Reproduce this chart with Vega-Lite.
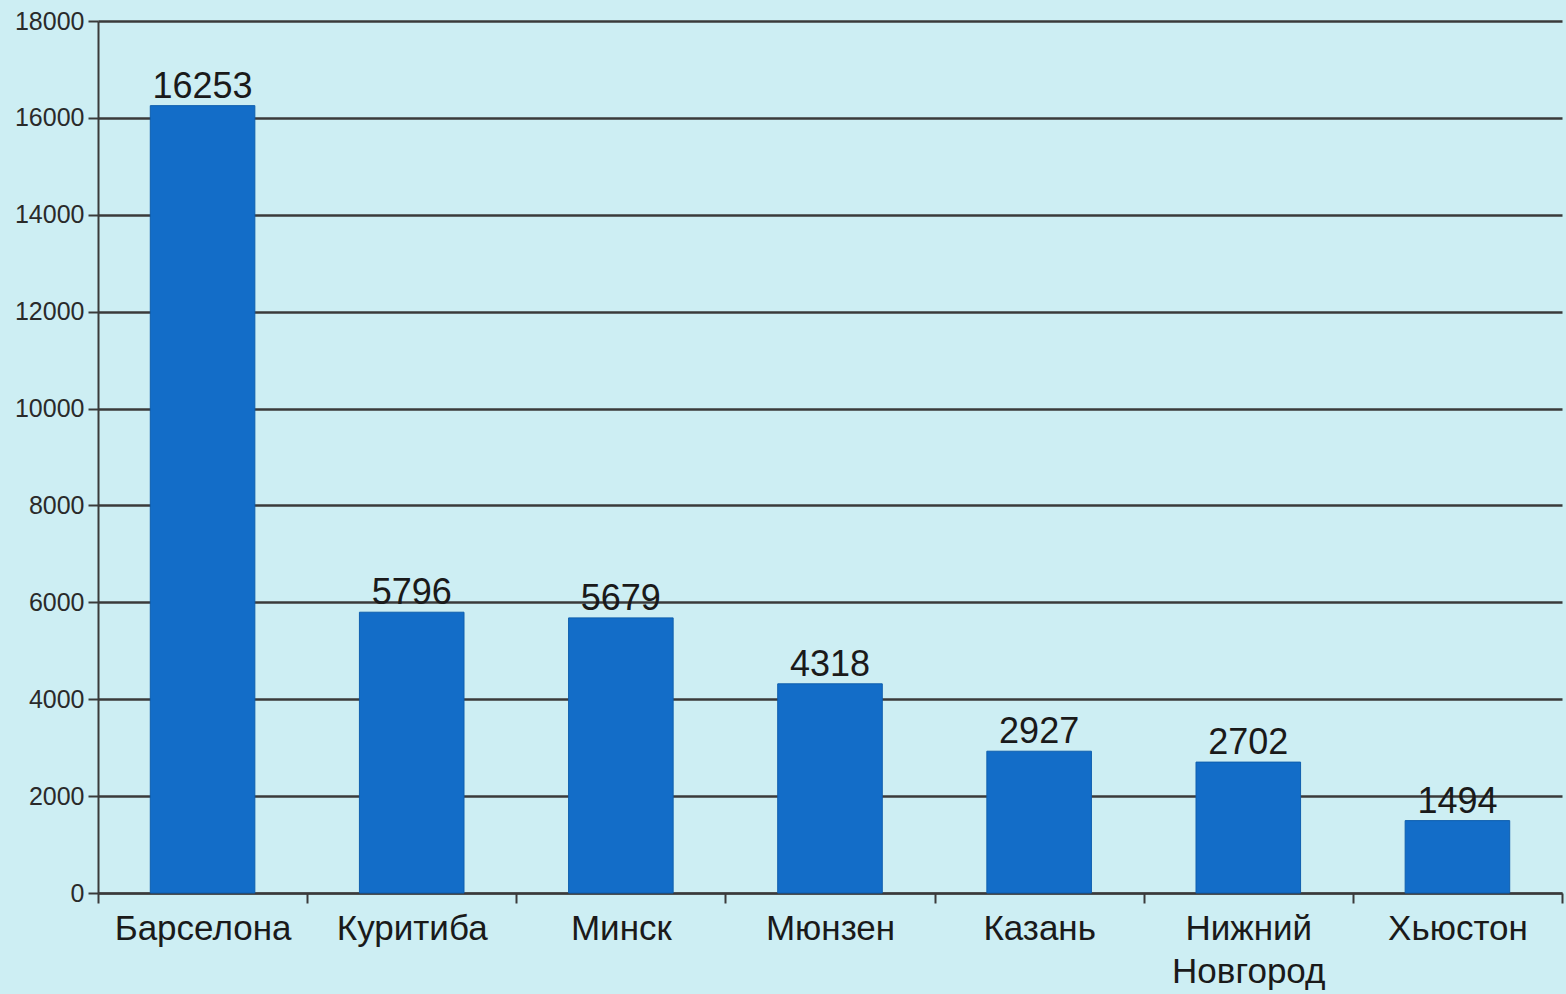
{
  "$schema": "https://vega.github.io/schema/vega-lite/v6.json",
  "width": 1464,
  "height": 872,
  "autosize": {"type": "none"},
  "padding": {"left": 98, "top": 21, "right": 4, "bottom": 101},
  "background": "#cdeef3",
  "config": {
    "view": {"stroke": null},
    "font": "Liberation Sans"
  },
  "data": {
    "values": [
      {"city": "Барселона", "value": 16253},
      {"city": "Куритиба", "value": 5796},
      {"city": "Минск", "value": 5679},
      {"city": "Мюнзен", "value": 4318},
      {"city": "Казань", "value": 2927},
      {"city": "Нижний Новгород", "value": 2702},
      {"city": "Хьюстон", "value": 1494}
    ]
  },
  "encoding": {
    "x": {
      "field": "city",
      "type": "nominal",
      "sort": null,
      "scale": {"paddingInner": 0, "paddingOuter": 0},
      "axis": {
        "title": null,
        "labelAngle": 0,
        "labelFontSize": 35,
        "labelColor": "#1a1a1a",
        "labelPadding": 8,
        "labelLineHeight": 43,
        "labelExpr": "datum.label == 'Нижний Новгород' ? ['Нижний', 'Новгород'] : datum.label",
        "domainColor": "#3a3a3a",
        "domainWidth": 2,
        "tickBand": "extent",
        "tickColor": "#3a3a3a",
        "tickWidth": 2,
        "tickSize": 10,
        "grid": false
      }
    },
    "y": {
      "field": "value",
      "type": "quantitative",
      "scale": {"domain": [0, 18000], "nice": false},
      "axis": {
        "title": null,
        "values": [0, 2000, 4000, 6000, 8000, 10000, 12000, 14000, 16000, 18000],
        "format": "d",
        "labelFontSize": 25,
        "labelColor": "#2a2a2a",
        "labelPadding": 4,
        "domainColor": "#3a3a3a",
        "domainWidth": 2,
        "tickColor": "#3a3a3a",
        "tickWidth": 2,
        "tickSize": 10,
        "grid": true,
        "gridColor": "#3a3a3a",
        "gridWidth": 2.5,
        "gridOpacity": 1
      }
    }
  },
  "layer": [
    {
      "mark": {"type": "bar", "width": {"band": 0.5}, "color": "#136dc8", "stroke": "#0f5fae", "strokeWidth": 1}
    },
    {
      "mark": {"type": "text", "baseline": "alphabetic", "dy": -8, "fontSize": 36, "color": "#1a1a1a"},
      "encoding": {"text": {"field": "value", "type": "quantitative", "format": "d"}}
    }
  ]
}
